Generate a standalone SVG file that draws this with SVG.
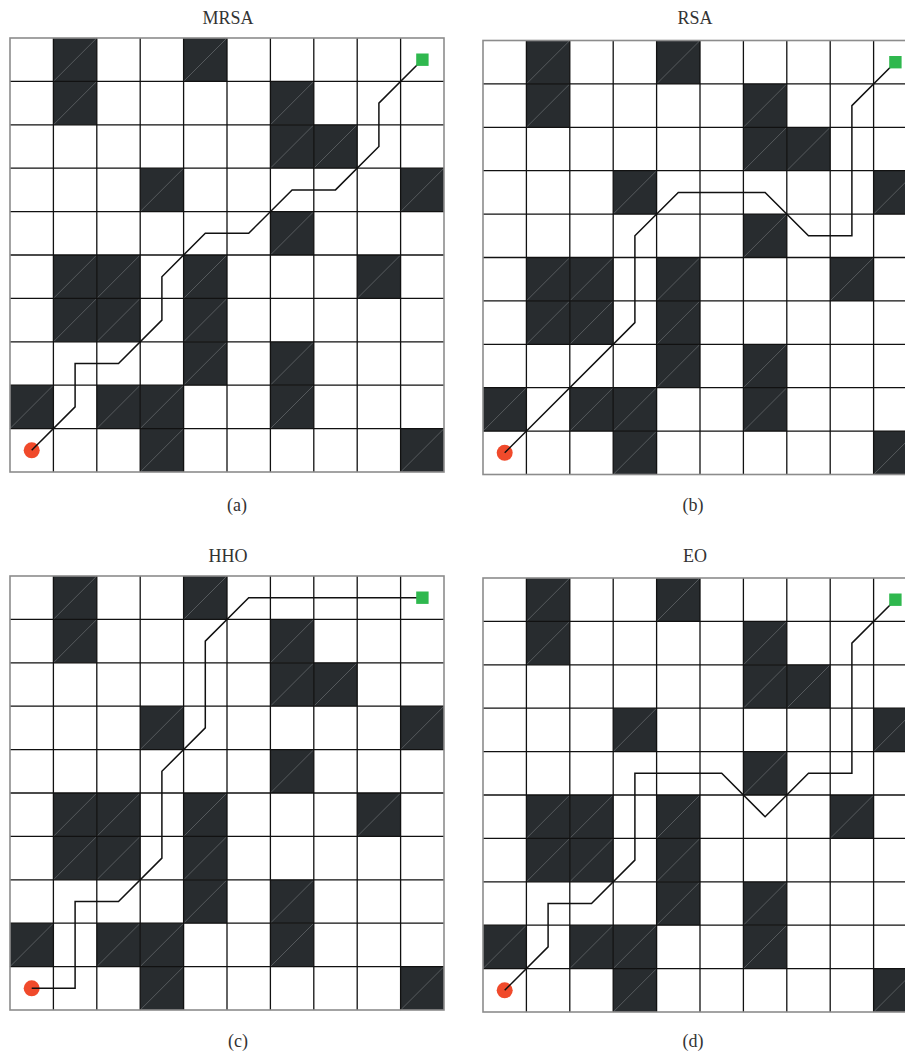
<svg xmlns="http://www.w3.org/2000/svg" xmlns:xlink="http://www.w3.org/1999/xlink" width="905" height="1055" viewBox="0 0 905 1055">
<style>
.bg{fill:#ffffff}
.ob{fill:#282c2f}
.obd{stroke:#6a6e71;stroke-width:0.7;fill:none}
.grid{stroke:#111111;stroke-width:1.3;fill:none}
.border{stroke:#8c8c8c;stroke-width:1.6;fill:none}
.route{stroke:#111111;stroke-width:1.5;fill:none;stroke-linejoin:miter}
.start{fill:#f04a2b}
.goal{fill:#2fb84e}
.t{font-family:"Liberation Serif","Times New Roman",serif;font-size:18px;fill:#333333;text-anchor:middle}
</style>
<defs>
<g id="cell">
<rect class="ob" x="0" y="0" width="43.4" height="43.4"/>
<line class="obd" x1="0" y1="43.4" x2="43.4" y2="0"/>
</g>
<g id="map">
<rect class="bg" x="0" y="0" width="434" height="434"/>
<use xlink:href="#cell" x="43.4" y="0"/>
<use xlink:href="#cell" x="173.6" y="0"/>
<use xlink:href="#cell" x="43.4" y="43.4"/>
<use xlink:href="#cell" x="260.4" y="43.4"/>
<use xlink:href="#cell" x="260.4" y="86.8"/>
<use xlink:href="#cell" x="303.8" y="86.8"/>
<use xlink:href="#cell" x="130.2" y="130.2"/>
<use xlink:href="#cell" x="390.6" y="130.2"/>
<use xlink:href="#cell" x="260.4" y="173.6"/>
<use xlink:href="#cell" x="43.4" y="217"/>
<use xlink:href="#cell" x="86.8" y="217"/>
<use xlink:href="#cell" x="173.6" y="217"/>
<use xlink:href="#cell" x="347.2" y="217"/>
<use xlink:href="#cell" x="43.4" y="260.4"/>
<use xlink:href="#cell" x="86.8" y="260.4"/>
<use xlink:href="#cell" x="173.6" y="260.4"/>
<use xlink:href="#cell" x="173.6" y="303.8"/>
<use xlink:href="#cell" x="260.4" y="303.8"/>
<use xlink:href="#cell" x="0" y="347.2"/>
<use xlink:href="#cell" x="86.8" y="347.2"/>
<use xlink:href="#cell" x="130.2" y="347.2"/>
<use xlink:href="#cell" x="260.4" y="347.2"/>
<use xlink:href="#cell" x="130.2" y="390.6"/>
<use xlink:href="#cell" x="390.6" y="390.6"/>
<path class="grid" d="M43.4 0V434M86.8 0V434M130.2 0V434M173.6 0V434M217 0V434M260.4 0V434M303.8 0V434M347.2 0V434M390.6 0V434M0 43.4H434M0 86.8H434M0 130.2H434M0 173.6H434M0 217H434M0 260.4H434M0 303.8H434M0 347.2H434M0 390.6H434"/>
<rect class="border" x="0" y="0" width="434" height="434"/>
</g>
</defs>
<rect x="0" y="0" width="905" height="1055" fill="#ffffff"/>

<g id="panel-a" transform="translate(10,38)">
<use xlink:href="#map"/>
<circle class="start" cx="21.7" cy="412.3" r="8"/>
</g>
<g id="panel-b" transform="translate(483,40.5)">
<use xlink:href="#map"/>
<circle class="start" cx="21.7" cy="412.3" r="8"/>
</g>
<g id="panel-c" transform="translate(10,576)">
<use xlink:href="#map"/>
<circle class="start" cx="21.7" cy="412.3" r="8"/>
</g>
<g id="panel-d" transform="translate(483,578)">
<use xlink:href="#map"/>
<circle class="start" cx="21.7" cy="412.3" r="8"/>
</g>

<g id="connectors">
<polyline class="route" transform="translate(10,38)" points="21.7,412.3 65.1,368.9 65.1,325.5 108.5,325.5 151.9,282.1 151.9,238.7 195.3,195.3 238.7,195.3 282.1,151.9 325.5,151.9 368.9,108.5 368.9,65.1 412.3,21.7"/>
<polyline class="route" transform="translate(483,40.5)" points="21.7,412.3 151.9,282.1 151.9,195.3 195.3,151.9 282.1,151.9 325.5,195.3 368.9,195.3 368.9,65.1 412.3,21.7"/>
<polyline class="route" transform="translate(10,576)" points="21.7,412.3 65.1,412.3 65.1,325.5 108.5,325.5 151.9,282.1 151.9,195.3 195.3,151.9 195.3,65.1 238.7,21.7 412.3,21.7"/>
<polyline class="route" transform="translate(483,578)" points="21.7,412.3 65.1,368.9 65.1,325.5 108.5,325.5 151.9,282.1 151.9,195.3 238.7,195.3 282.1,238.7 325.5,195.3 368.9,195.3 368.9,65.1 412.3,21.7"/>
</g>

<g id="goals">
<rect class="goal" x="416.2" y="53.5" width="12.4" height="12.4"/>
<rect class="goal" x="889.2" y="56" width="12.4" height="12.4"/>
<rect class="goal" x="416.2" y="591.5" width="12.4" height="12.4"/>
<rect class="goal" x="889.2" y="593.5" width="12.4" height="12.4"/>
</g>

<g id="labels">
<text class="t" x="228" y="24">MRSA</text>
<text class="t" x="695" y="24">RSA</text>
<text class="t" x="228" y="562">HHO</text>
<text class="t" x="695" y="562">EO</text>
<text class="t" x="237" y="511">(a)</text>
<text class="t" x="693" y="511">(b)</text>
<text class="t" x="238" y="1047">(c)</text>
<text class="t" x="693" y="1047">(d)</text>
</g>
</svg>
